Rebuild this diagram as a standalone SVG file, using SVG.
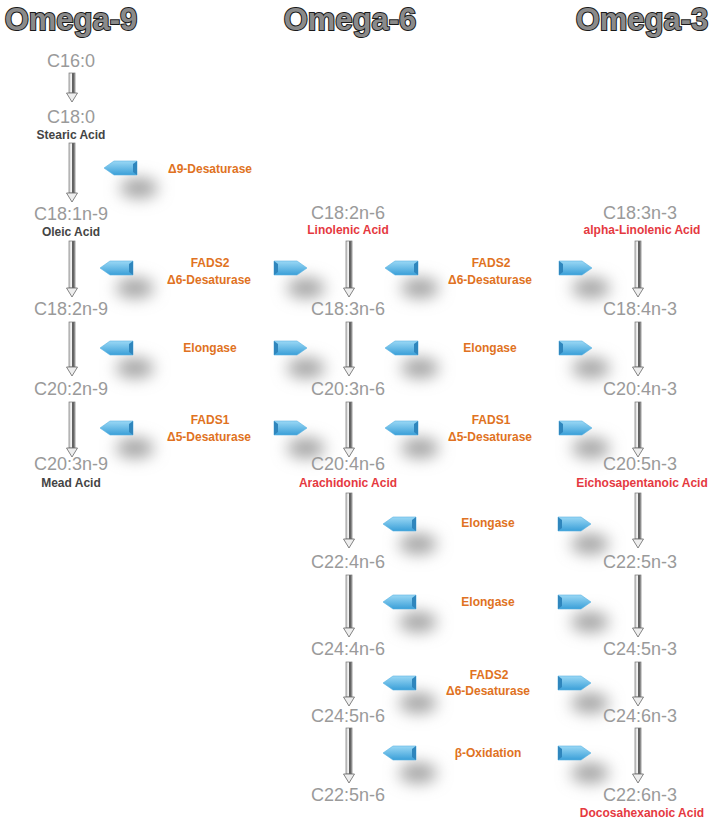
<svg xmlns="http://www.w3.org/2000/svg" xmlns:xlink="http://www.w3.org/1999/xlink" width="717" height="825" viewBox="0 0 717 825">
<style>
.title{font-family:"Liberation Sans",Arial,sans-serif;font-weight:bold;font-size:31px;text-anchor:middle;fill:#8a8a8a;stroke:#1a1a1a;stroke-width:2;paint-order:stroke}
.fa{font-family:"Liberation Sans",Arial,sans-serif;font-size:18px;fill:#9a9a9a;text-anchor:middle}
.sub{font-family:"Liberation Sans",Arial,sans-serif;font-size:12px;font-weight:bold;fill:#444;text-anchor:middle}
.red{font-family:"Liberation Sans",Arial,sans-serif;font-size:12px;font-weight:bold;fill:#e5393f;text-anchor:middle}
.enz{font-family:"Liberation Sans",Arial,sans-serif;font-size:12px;font-weight:bold;fill:#e07222;text-anchor:middle}
.shaft{fill:url(#shaftG);stroke:#777;stroke-width:0.7}
.head{fill:#eee;stroke:#666;stroke-width:0.8}
</style>
<defs>
<linearGradient id="shaftG" x1="0" y1="0" x2="1" y2="0">
<stop offset="0" stop-color="#d0d0d0"/>
<stop offset="0.45" stop-color="#f4f4f4"/>
<stop offset="0.62" stop-color="#3a3a3a"/>
<stop offset="1" stop-color="#b8b8b8"/>
</linearGradient>
<linearGradient id="blueG" x1="0" y1="0" x2="0" y2="1">
<stop offset="0" stop-color="#9ad8f5"/>
<stop offset="1" stop-color="#3a9fd8"/>
</linearGradient>
<filter id="blur" x="-200%" y="-300%" width="500%" height="700%">
<feGaussianBlur stdDeviation="8"/>
</filter>
<g id="chevL">
<ellipse cx="18" cy="20" rx="19" ry="10" fill="#a0a0a0" filter="url(#blur)"/>
<polygon points="-17,0 -7,-7 16,-7 16,7 -7,7" fill="url(#blueG)" stroke="#5ab4e2" stroke-width="0.6"/>
<polygon points="16,-7 12,-4 12,4 16,7" fill="#2f86bd"/>
</g>
<g id="chevR">
<ellipse cx="16" cy="20" rx="19" ry="10" fill="#a0a0a0" filter="url(#blur)"/>
<polygon points="17,0 7,-7 -16,-7 -16,7 7,7" fill="url(#blueG)" stroke="#5ab4e2" stroke-width="0.6"/>
<polygon points="-16,-7 -12,-4 -12,4 -16,7" fill="#2f86bd"/>
</g>
</defs>
<rect width="717" height="825" fill="#ffffff"/>

<g id="titles">
<text class="title" x="71" y="30">Omega-9</text>
<text class="title" x="350" y="30">Omega-6</text>
<text class="title" x="642" y="30">Omega-3</text>
</g>

<g id="enzyme-markers">
<use href="#chevL" x="121" y="168"/>
<use href="#chevL" x="117" y="268"/><use href="#chevR" x="290" y="268"/>
<use href="#chevL" x="402" y="268"/><use href="#chevR" x="575" y="268"/>
<use href="#chevL" x="117" y="348"/><use href="#chevR" x="290" y="348"/>
<use href="#chevL" x="402" y="348"/><use href="#chevR" x="575" y="348"/>
<use href="#chevL" x="117" y="428"/><use href="#chevR" x="290" y="428"/>
<use href="#chevL" x="402" y="428"/><use href="#chevR" x="575" y="428"/>
<use href="#chevL" x="400" y="524"/><use href="#chevR" x="574" y="524"/>
<use href="#chevL" x="400" y="602"/><use href="#chevR" x="574" y="602"/>
<use href="#chevL" x="400" y="683"/><use href="#chevR" x="574" y="683"/>
<use href="#chevL" x="400" y="753"/><use href="#chevR" x="574" y="753"/>
</g>

<g id="connectors">
<!-- Omega-9 -->
<rect class="shaft" x="69" y="73" width="6" height="20"/><polygon class="head" points="66.5,93 77.5,93 72,102"/>
<rect class="shaft" x="69" y="143" width="6" height="50"/><polygon class="head" points="66.5,193 77.5,193 72,202"/>
<rect class="shaft" x="69" y="241" width="6" height="47"/><polygon class="head" points="66.5,288 77.5,288 72,297"/>
<rect class="shaft" x="69" y="322" width="6" height="45"/><polygon class="head" points="66.5,367 77.5,367 72,376"/>
<rect class="shaft" x="69" y="402" width="6" height="46"/><polygon class="head" points="66.5,448 77.5,448 72,457"/>
<!-- Omega-6 -->
<rect class="shaft" x="346" y="241" width="6" height="47"/><polygon class="head" points="343.5,288 354.5,288 349,297"/>
<rect class="shaft" x="346" y="322" width="6" height="45"/><polygon class="head" points="343.5,367 354.5,367 349,376"/>
<rect class="shaft" x="346" y="402" width="6" height="46"/><polygon class="head" points="343.5,448 354.5,448 349,457"/>
<rect class="shaft" x="346" y="493" width="6" height="46"/><polygon class="head" points="343.5,539 354.5,539 349,548"/>
<rect class="shaft" x="346" y="575" width="6" height="53"/><polygon class="head" points="343.5,628 354.5,628 349,637"/>
<rect class="shaft" x="346" y="662" width="6" height="35"/><polygon class="head" points="343.5,697 354.5,697 349,706"/>
<rect class="shaft" x="346" y="728" width="6" height="46"/><polygon class="head" points="343.5,774 354.5,774 349,783"/>
<!-- Omega-3 -->
<rect class="shaft" x="635" y="241" width="6" height="47"/><polygon class="head" points="632.5,288 643.5,288 638,297"/>
<rect class="shaft" x="635" y="322" width="6" height="45"/><polygon class="head" points="632.5,367 643.5,367 638,376"/>
<rect class="shaft" x="635" y="402" width="6" height="46"/><polygon class="head" points="632.5,448 643.5,448 638,457"/>
<rect class="shaft" x="635" y="493" width="6" height="46"/><polygon class="head" points="632.5,539 643.5,539 638,548"/>
<rect class="shaft" x="635" y="575" width="6" height="53"/><polygon class="head" points="632.5,628 643.5,628 638,637"/>
<rect class="shaft" x="635" y="662" width="6" height="35"/><polygon class="head" points="632.5,697 643.5,697 638,706"/>
<rect class="shaft" x="635" y="728" width="6" height="46"/><polygon class="head" points="632.5,774 643.5,774 638,783"/>
</g>

<!-- Omega-9 nodes -->
<g id="n9-c16-0"><text class="fa" x="71" y="67">C16:0</text></g>
<g id="n9-c18-0"><text class="fa" x="71" y="123">C18:0</text><text class="sub" x="71" y="139">Stearic Acid</text></g>
<g id="n9-c18-1"><text class="fa" x="71" y="220">C18:1n-9</text><text class="sub" x="71" y="236">Oleic Acid</text></g>
<g id="n9-c18-2"><text class="fa" x="71" y="315">C18:2n-9</text></g>
<g id="n9-c20-2"><text class="fa" x="71" y="395">C20:2n-9</text></g>
<g id="n9-c20-3"><text class="fa" x="71" y="470">C20:3n-9</text><text class="sub" x="71" y="487">Mead Acid</text></g>

<!-- Omega-6 nodes -->
<g id="n6-c18-2"><text class="fa" x="348" y="219">C18:2n-6</text><text class="red" x="348" y="234">Linolenic Acid</text></g>
<g id="n6-c18-3"><text class="fa" x="348" y="315">C18:3n-6</text></g>
<g id="n6-c20-3"><text class="fa" x="348" y="395">C20:3n-6</text></g>
<g id="n6-c20-4"><text class="fa" x="348" y="470">C20:4n-6</text><text class="red" x="348" y="487">Arachidonic Acid</text></g>
<g id="n6-c22-4"><text class="fa" x="348" y="568">C22:4n-6</text></g>
<g id="n6-c24-4"><text class="fa" x="348" y="655">C24:4n-6</text></g>
<g id="n6-c24-5"><text class="fa" x="348" y="722">C24:5n-6</text></g>
<g id="n6-c22-5"><text class="fa" x="348" y="801">C22:5n-6</text></g>

<!-- Omega-3 nodes -->
<g id="n3-c18-3"><text class="fa" x="640" y="219">C18:3n-3</text><text class="red" x="642" y="234">alpha-Linolenic Acid</text></g>
<g id="n3-c18-4"><text class="fa" x="640" y="315">C18:4n-3</text></g>
<g id="n3-c20-4"><text class="fa" x="640" y="395">C20:4n-3</text></g>
<g id="n3-c20-5"><text class="fa" x="640" y="470">C20:5n-3</text><text class="red" x="642" y="487">Eichosapentanoic Acid</text></g>
<g id="n3-c22-5"><text class="fa" x="640" y="568">C22:5n-3</text></g>
<g id="n3-c24-5"><text class="fa" x="640" y="655">C24:5n-3</text></g>
<g id="n3-c24-6"><text class="fa" x="640" y="722">C24:6n-3</text></g>
<g id="n3-c22-6"><text class="fa" x="640" y="801">C22:6n-3</text><text class="red" x="642" y="817">Docosahexanoic Acid</text></g>

<!-- Enzyme labels -->
<g id="enz-d9"><text class="enz" x="210" y="173">Δ9-Desaturase</text></g>
<g id="enz-fads2-a"><text class="enz" x="210" y="267">FADS2</text><text class="enz" x="209" y="284">Δ6-Desaturase</text></g>
<g id="enz-fads2-b"><text class="enz" x="491" y="267">FADS2</text><text class="enz" x="490" y="284">Δ6-Desaturase</text></g>
<g id="enz-elo-a"><text class="enz" x="210" y="352">Elongase</text></g>
<g id="enz-elo-b"><text class="enz" x="490" y="352">Elongase</text></g>
<g id="enz-fads1-a"><text class="enz" x="210" y="424">FADS1</text><text class="enz" x="209" y="441">Δ5-Desaturase</text></g>
<g id="enz-fads1-b"><text class="enz" x="491" y="424">FADS1</text><text class="enz" x="490" y="441">Δ5-Desaturase</text></g>
<g id="enz-elo-c"><text class="enz" x="488" y="527">Elongase</text></g>
<g id="enz-elo-d"><text class="enz" x="488" y="606">Elongase</text></g>
<g id="enz-fads2-c"><text class="enz" x="489" y="679">FADS2</text><text class="enz" x="488" y="695">Δ6-Desaturase</text></g>
<g id="enz-box"><text class="enz" x="488" y="757">β-Oxidation</text></g>
</svg>
